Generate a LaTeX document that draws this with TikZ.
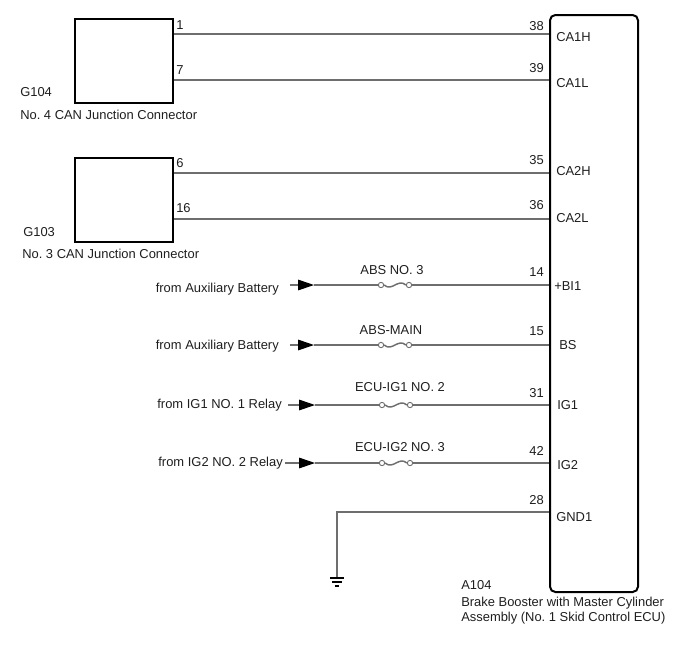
\documentclass[tikz,border=0pt]{standalone}
\usepackage{fontspec}
\setmainfont{Liberation Sans}
\usetikzlibrary{arrows.meta}
\definecolor{wiregray}{RGB}{110,110,110}
\definecolor{txt}{RGB}{30,30,30}
\frenchspacing
\begin{document}
\begin{tikzpicture}[x=0.75pt,y=-0.75pt,
  wire/.style={draw=wiregray, line width=0.8pt},
  wave/.style={draw=wiregray, line width=1.1pt},
  boxline/.style={draw=black, line width=1.5pt, inner sep=0pt},
  lbl/.style={font=\fontsize{9.7}{11.5}\selectfont, text=txt, inner sep=0pt},
  fusedot/.style={circle, draw=wiregray, fill=white, line width=0.7pt, minimum size=4pt, inner sep=0pt},
  arr/.style={-{Triangle[length=12pt,width=8pt,color=black]}},
  gndline/.style={draw=black, line width=0.9pt}]
\useasboundingbox (0,0) rectangle (688,658);

% junction connectors
\node[boxline, minimum width=73.5pt, minimum height=63pt, anchor=north west] (g104) at (74,18) {};
\node[boxline, minimum width=73.5pt, minimum height=63pt, anchor=north west] (g103) at (74,157) {};
% ECU
\node[boxline, rounded corners=4pt, minimum width=66pt, minimum height=432.75pt, anchor=north west] (ecu) at (549,14) {};

% connector side coordinates
\coordinate (g104p1) at (g104.east |- 0,34);
\coordinate (g104p7) at (g104.east |- 0,80);
\coordinate (g103p6) at (g103.east |- 0,173);
\coordinate (g103p16) at (g103.east |- 0,219);
% ECU pins
\coordinate (e38) at (ecu.west |- 0,34);
\coordinate (e39) at (ecu.west |- 0,80);
\coordinate (e35) at (ecu.west |- 0,173);
\coordinate (e36) at (ecu.west |- 0,219);
\coordinate (e14) at (ecu.west |- 0,285);
\coordinate (e15) at (ecu.west |- 0,345);
\coordinate (e31) at (ecu.west |- 0,405);
\coordinate (e42) at (ecu.west |- 0,463);
\coordinate (e28) at (ecu.west |- 0,512);

% CAN wires
\draw[wire] (g104p1) -- (e38);
\draw[wire] (g104p7) -- (e39);
\draw[wire] (g103p6) -- (e35);
\draw[wire] (g103p16) -- (e36);

% power sources
\coordinate (s1) at (290,285);
\coordinate (t1) at (314,285);
\coordinate (s2) at (290,345);
\coordinate (t2) at (314,345);
\coordinate (s3) at (288,405);
\coordinate (t3) at (315,405);
\coordinate (s4) at (285,463);
\coordinate (t4) at (315,463);

\node[fusedot] (f1a) at (381,285) {};
\node[fusedot] (f1b) at (409,285) {};
\node[fusedot] (f2a) at (381,345) {};
\node[fusedot] (f2b) at (409,345) {};
\node[fusedot] (f3a) at (382,405) {};
\node[fusedot] (f3b) at (410,405) {};
\node[fusedot] (f4a) at (382,463) {};
\node[fusedot] (f4b) at (410,463) {};

\foreach \i in {1,2,3,4}{
  \draw[wire,arr] (s\i) -- (t\i);
  \draw[wire] (t\i) -- (f\i a);
  \draw[wave] (f\i a.east) .. controls +(8,7) and +(-8,-7) .. (f\i b.west);
}
\draw[wire] (f1b) -- (e14);
\draw[wire] (f2b) -- (e15);
\draw[wire] (f3b) -- (e31);
\draw[wire] (f4b) -- (e42);

% ground
\coordinate (gnd) at (337,578);
\draw[wire] (e28) -- (gnd |- e28) -- (gnd);
\draw[gndline] ([xshift=-5.25pt]gnd) -- ([xshift=5.25pt]gnd);
\draw[gndline] ([xshift=-3.5pt,yshift=-3pt]gnd) -- ([xshift=3.5pt,yshift=-3pt]gnd);
\draw[gndline] ([xshift=-1.75pt,yshift=-6pt]gnd) -- ([xshift=1.75pt,yshift=-6pt]gnd);

% connector pin numbers
\node[lbl, anchor=west] (n1) at (176,25) {1};
\node[lbl, anchor=west] (n7) at (176,70) {7};
\node[lbl, anchor=west] (n6) at (176,163) {6};
\node[lbl, anchor=west] (n16) at (176,208) {16};

\node[lbl, anchor=west] (lg104) at (20,92) {G104};
\node[lbl, anchor=west] (dg104) at (20,115) {No. 4 CAN Junction Connector};
\node[lbl, anchor=west] (lg103) at (23,232) {G103};
\node[lbl, anchor=west] (dg103) at (22,254) {No. 3 CAN Junction Connector};

% ECU pin numbers
\foreach \n/\y in {38/26.5,39/68,35/160,36/205,14/272,15/331,31/393,42/451,28/500}{
  \node[lbl, anchor=east] (pn\n) at (544,\y) {\n};
}
% ECU pin names
\node[lbl, anchor=west] (nCA1H) at (556,37.5) {CA1H};
\node[lbl, anchor=west] (nCA1L) at (556,83) {CA1L};
\node[lbl, anchor=west] (nCA2H) at (556,171) {CA2H};
\node[lbl, anchor=west] (nCA2L) at (556,218) {CA2L};
\node[lbl, anchor=west] (nBI1) at (554,286) {+BI1};
\node[lbl, anchor=west] (nBS) at (559,345) {BS};
\node[lbl, anchor=west] (nIG1) at (557,405) {IG1};
\node[lbl, anchor=west] (nIG2) at (557,465) {IG2};
\node[lbl, anchor=west] (nGND1) at (556,517) {GND1};

% fuse labels
\node[lbl] (fl1) at (392,270) {ABS NO. 3};
\node[lbl] (fl2) at (391,330) {ABS-MAIN};
\node[lbl] (fl3) at (400,387) {ECU-IG1 NO. 2};
\node[lbl] (fl4) at (400,447) {ECU-IG2 NO. 3};

% source labels
\node[lbl, anchor=east] (src1) at (279,289) {from Auxiliary Battery};
\node[lbl, anchor=east] (src2) at (279,346) {from Auxiliary Battery};
\node[lbl, anchor=east] (src3) at (282,405) {from IG1 NO. 1 Relay};
\node[lbl, anchor=east] (src4) at (283,463) {from IG2 NO. 2 Relay};

% ECU label
\node[lbl, anchor=west] (la104) at (461,585) {A104};
\node[lbl, anchor=north west, align=left] (da104) at (461,597) {Brake Booster with Master Cylinder\\Assembly (No. 1 Skid Control ECU)};
\end{tikzpicture}
\end{document}
